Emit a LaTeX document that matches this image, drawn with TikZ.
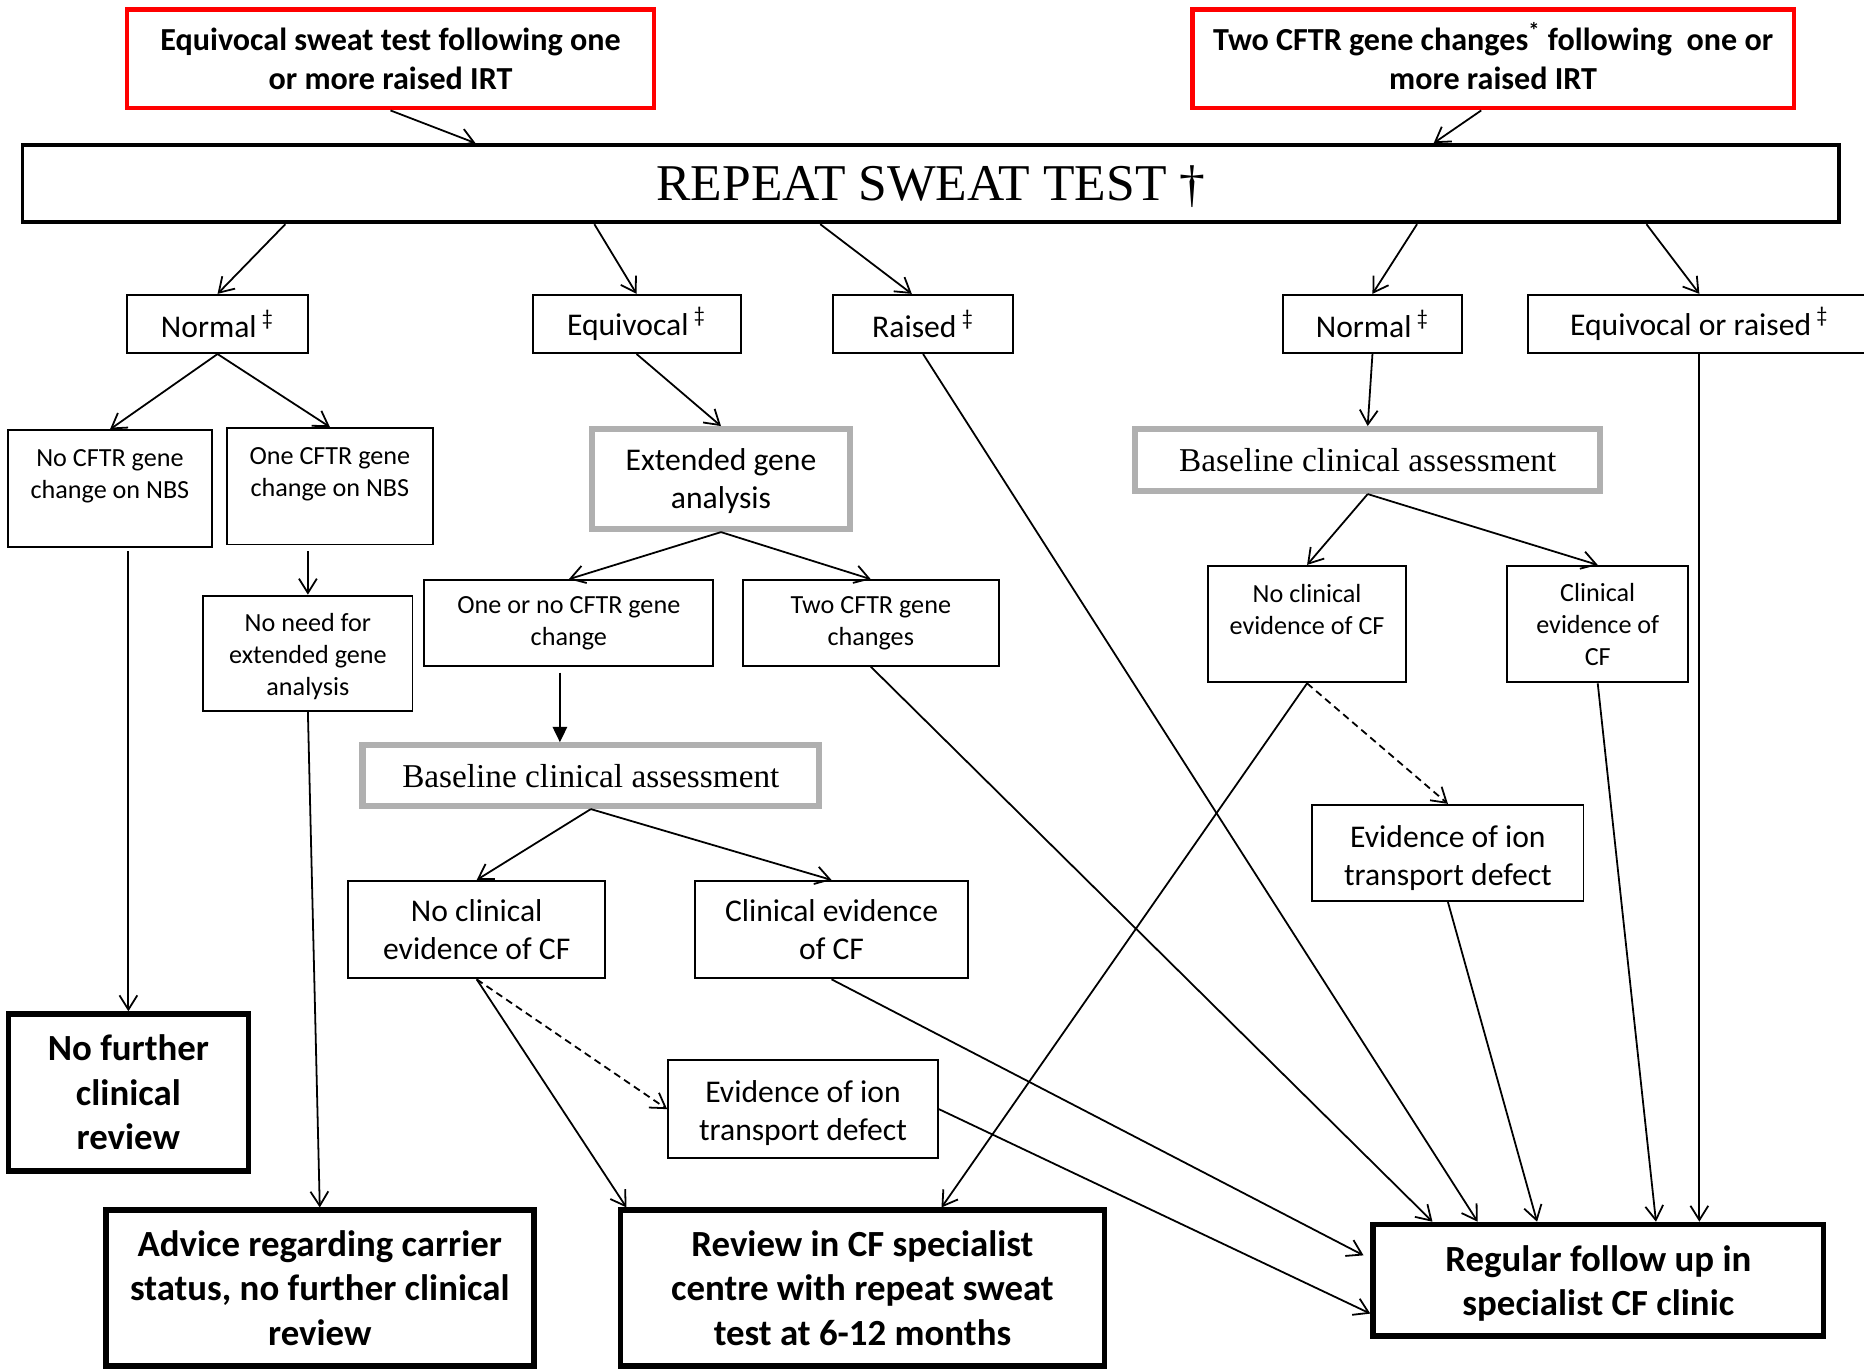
\documentclass[tikz,border=0pt]{standalone}
\usepackage{fontspec}
\setmainfont{Carlito}
\newfontfamily\cfserif{Liberation Serif}
\usetikzlibrary{arrows.meta}
\definecolor{boxgray}{HTML}{B0B0B0}
\definecolor{boxred}{HTML}{FF0000}
\newcommand\cfSmall{\fontsize{11}{13.5}\selectfont}
\newcommand\cfMid{\fontsize{13.3}{16}\selectfont}
\newcommand\cfBig{\fontsize{15.5}{18.75}\selectfont\bfseries}
\newcommand\cfRed{\fontsize{13.5}{16}\selectfont\bfseries}
\newcommand\cfBx[7]{%
  \node[#6, minimum width={(#4-#2)*0.5pt}, minimum height={(#5-#3)*0.5pt}] (#1) at ({(#2+#4)/2},{(#3+#5)/2}) {#7};}
\begin{document}
\begin{tikzpicture}[x=0.5pt,y=-0.5pt,
  basebox/.style={draw, line width=0.8pt, inner sep=0pt, align=center, fill=white},
  smallbox/.style={basebox, font=\cfSmall},
  midbox/.style={basebox, font=\cfMid},
  endbox/.style={basebox, line width=2.3pt, font=\cfBig},
  redbox/.style={basebox, draw=boxred, line width=1.9pt, font=\cfRed},
  graybox/.style={basebox, draw=boxgray, line width=2.6pt, font=\cfserif\fontsize{14}{17}\selectfont},
  topbox/.style={basebox, line width=1.6pt, font=\cfserif\fontsize{21.7}{25}\selectfont, text height=14.3pt, text depth=0pt},
  txt/.style={inner sep=0pt, align=center},
  conn/.style={-{Straight Barb[length=6pt,width=7.5pt]}, line width=0.75pt},
  dconn/.style={conn, dashed, dash pattern=on 3pt off 2pt},
  fconn/.style={-{Triangle[length=6.5pt,width=6pt]}, line width=1pt}
]
\useasboundingbox (0,0) rectangle (1568,1152);
\clip (0,0) rectangle (1568,1152);

% top boxes
\cfBx{R1}{107}{8}{550}{91}{redbox}{Equivocal sweat test following one\\or more raised IRT}
\cfBx{R2}{1003}{8}{1509}{91}{redbox}{Two CFTR gene changes\smash{\textsuperscript{*}} following\ \ one or\\more raised IRT}
\cfBx{REP}{19}{122}{1547}{187}{topbox}{REPEAT SWEAT TEST \raisebox{-0.5pt}{†}}

% second level
\cfBx{N1}{107}{248}{259}{297}{midbox}{Normal\,\textsuperscript{‡}}
\cfBx{E1}{448}{248}{623}{297}{midbox}{Equivocal\,\textsuperscript{‡}}
\cfBx{Ra}{701}{248}{852}{297}{midbox}{Raised\,\textsuperscript{‡}}
\cfBx{N2}{1079}{248}{1230}{297}{midbox}{Normal\,\textsuperscript{‡}}
\cfBx{ER}{1285}{248}{1574}{297}{midbox}{Equivocal or raised\,\textsuperscript{‡}}

% left branch
\cfBx{noCFTR}{7}{362}{178}{460}{smallbox}{}
\node[txt, font=\cfSmall] (noCFTRt) at (92.5,400.5) {No CFTR gene\\change on NBS};
\cfBx{oneCFTR}{191}{360}{364}{458}{smallbox}{}
\node[txt, font=\cfSmall] (oneCFTRt) at (277.5,399) {One CFTR gene\\change on NBS};
\cfBx{noNeed}{171}{501}{347}{598}{smallbox}{}
\node[txt, font=\cfSmall] (noNeedt) at (259,552) {No need for\\extended gene\\analysis};

% middle branch
\cfBx{Ext}{498}{361}{715}{445}{graybox}{}
\node[txt, font=\cfMid] (Extt) at (606.5,405) {Extended gene\\analysis};
\cfBx{OneOrNo}{357}{488}{600}{560}{smallbox}{One or no CFTR gene\\change}
\cfBx{TwoCFTR}{625}{488}{840}{560}{smallbox}{Two CFTR gene\\changes}
\cfBx{Base1}{305}{627}{689}{678}{graybox}{Baseline clinical assessment}
\cfBx{NoClin1}{293}{741}{509}{823}{midbox}{No clinical\\evidence of CF}
\cfBx{ClinEv1}{585}{741}{814}{823}{midbox}{Clinical evidence\\of CF}
\cfBx{EvIon1}{562}{892}{789}{974}{midbox}{}
\node[txt, font=\cfMid] (EvIon1t) at (675.5,936) {Evidence of ion\\transport defect};

% right branch
\cfBx{Base2}{955}{361}{1346}{413}{graybox}{Baseline clinical assessment}
\cfBx{NoClin2}{1016}{476}{1183}{574}{smallbox}{}
\node[txt, font=\cfSmall] (NoClin2t) at (1099.5,512.5) {No clinical\\evidence of CF};
\cfBx{ClinEv2}{1268}{476}{1420}{574}{smallbox}{Clinical\\evidence of\\CF}
\cfBx{EvIon2}{1104}{677}{1332}{758}{midbox}{}
\node[txt, font=\cfMid] (EvIon2t) at (1218,721.5) {Evidence of ion\\transport defect};

% outcomes
\cfBx{NoF}{7}{853}{209}{985}{endbox}{No further\\clinical\\review}
\cfBx{Advice}{89}{1018}{449}{1149}{endbox}{Advice regarding carrier\\status, no further clinical\\review}
\cfBx{Review}{522}{1018}{929}{1149}{endbox}{Review in CF specialist\\centre with repeat sweat\\test at 6-12 months}
\cfBx{Reg}{1155}{1030}{1534}{1124}{endbox}{}
\node[txt, font=\cfBig] (Regt) at (1344.5,1079.5) {Regular follow up in\\specialist CF clinic};

% connectors
\draw[conn] (R1.south) -- (REP.north -| 400,0);
\draw[conn] (R2.south -| 1246,0) -- (REP.north -| 1206,0);
\draw[conn] (REP.south -| 240,0) -- (N1.north);
\draw[conn] (REP.south -| 500,0) -- (E1.north);
\draw[conn] (REP.south -| 690,0) -- (Ra.north -| 767,0);
\draw[conn] (REP.south -| 1192,0) -- (N2.north);
\draw[conn] (REP.south -| 1385,0) -- (ER.north);

\draw[conn] (N1.south) -- (noCFTR.north);
\draw[conn] (N1.south) -- (oneCFTR.north);
\draw[conn, shorten <=2.5pt] (oneCFTR.south -| noNeed.north) -- (noNeed.north);
\draw[conn, shorten <=1.5pt] (noCFTR.south -| NoF.north) -- (NoF.north);
\draw[conn] (noNeed.south) -- (Advice.north);

\draw[conn] (E1.south) -- (Ext.north);
\draw[conn] (Ext.south) -- (OneOrNo.north);
\draw[conn] (Ext.south) -- (TwoCFTR.north);
\draw[fconn, shorten <=2.5pt] (OneOrNo.south -| 471,0) -- (Base1.north -| 471,0);
\draw[conn] (Base1.south) -- (NoClin1.north);
\draw[conn] (Base1.south) -- (ClinEv1.north);
\draw[conn] (NoClin1.south) -- (Review.north -| 527,0);
\draw[dconn] (NoClin1.south) -- (EvIon1.west);
\draw[conn] (EvIon1.east) -- (Reg.west |- 0,1105);
\draw[conn] (ClinEv1.south) -- (1147,1056);
\draw[conn] (TwoCFTR.south) -- (Reg.north -| 1205,0);
\draw[conn] (Ra.south) -- (Reg.north -| 1243,0);

\draw[conn] (N2.south) -- (Base2.north);
\draw[conn] (Base2.south) -- (NoClin2.north);
\draw[conn] (Base2.south) -- (ClinEv2.north);
\draw[conn] (NoClin2.south) -- (Review.north -| 792,0);
\draw[dconn] (NoClin2.south) -- (EvIon2.north);
\draw[conn] (EvIon2.south) -- (Reg.north -| 1293,0);
\draw[conn] (ClinEv2.south) -- (Reg.north -| 1393,0);
\draw[conn] (ER.south) -- (Reg.north -| ER.south);
\end{tikzpicture}
\end{document}
